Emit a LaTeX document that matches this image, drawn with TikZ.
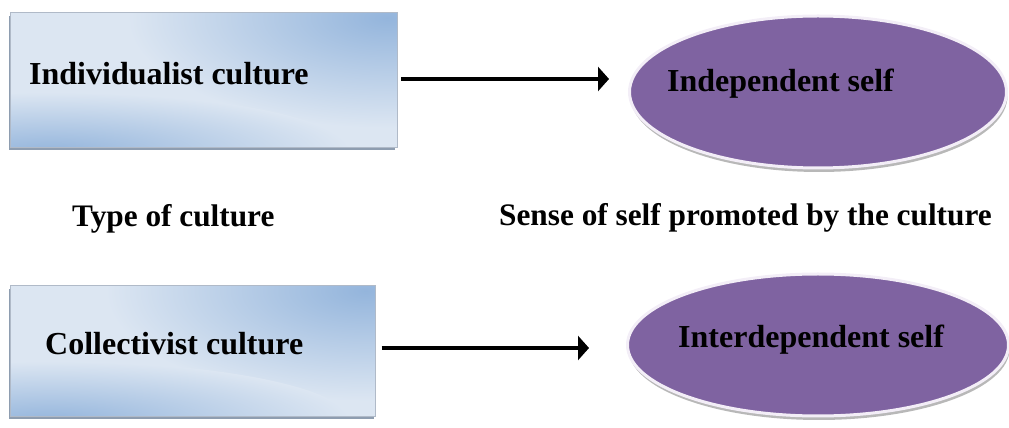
\documentclass[tikz,border=0pt]{standalone}
\usepackage{fontspec}
\setmainfont{Liberation Serif}
\usetikzlibrary{arrows.meta,shapes.geometric,shadows,calc}
\definecolor{boxlight}{HTML}{DCE6F2}
\definecolor{boxblue}{HTML}{94B5DC}
\definecolor{boxedge}{HTML}{8E9DB0}
\definecolor{selfpurple}{HTML}{7F63A1}
\definecolor{selfrim}{HTML}{F3EEF7}
\tikzset{
  culturebox/.style={rectangle, fill=boxlight,
    general shadow={fill=boxedge, shadow xshift=-2pt, shadow yshift=-3pt},
    inner sep=0pt},
  boxrim/.style={draw=boxedge!70, line width=0.8pt},
  blueglow/.style={inner color=boxblue, outer color=boxlight},
  selfellipse/.style={ellipse, fill=selfpurple, draw=selfrim, line width=3pt,
    general shadow={fill=black!28, shadow xshift=1pt, shadow yshift=-4pt},
    inner sep=0pt},
  boxtext/.style={font=\fontsize{32}{38}\selectfont\bfseries, inner sep=0pt, anchor=base west},
  labeltext/.style={font=\fontsize{31.3}{38}\selectfont\bfseries, inner sep=0pt},
  linkarrow/.style={line width=4.5pt, -{Triangle[length=11pt,width=24pt]}},
}
\begin{document}
\begin{tikzpicture}[x=1pt,y=1pt]
\useasboundingbox (0,0) rectangle (1009,428);
% boxes
\node[culturebox, minimum width=386pt, minimum height=134pt] (box1) at (204,348) {};
\node[culturebox, minimum width=365pt, minimum height=130pt] (box2) at (193,77) {};
\foreach \b in {box1,box2}{
  \begin{scope}
    \clip (\b.south west) rectangle (\b.north east);
    \shade[blueglow] ($(\b.north east)+(-10,-5)$) ellipse (260pt and 110pt);
    \shade[blueglow] ($(\b.south west)+(40,-5)$) ellipse (300pt and 60pt);
  \end{scope}
  \draw[boxrim] (\b.south west) rectangle (\b.north east);
}
% ellipses
\node[selfellipse, minimum width=377pt, minimum height=152pt] (ell1) at (818,336) {};
\node[selfellipse, minimum width=381pt, minimum height=142pt] (ell2) at (818,83) {};
% texts
\node[boxtext] (t1) at (29,343) {Individualist culture};
\node[boxtext] (t2) at (45,73) {Collectivist culture};
\node[boxtext] (t3) at (667,336) {Independent self};
\node[boxtext] (t4) at (678,80) {Interdependent self};
\node[labeltext, anchor=base west] (l1) at (72,201) {Type of culture};
\node[labeltext, anchor=base east] (l2) at (992,202) {Sense of self promoted by the culture};
% connectors
\coordinate (a1) at (box1.east |- 0,349);
\coordinate (a2) at (box2.east |- 0,80);
\draw[linkarrow, shorten <=4pt, shorten >=19pt] (a1) -- (a1 -| ell1.west);
\draw[linkarrow, shorten <=6pt, shorten >=37pt] (a2) -- (a2 -| ell2.west);
\end{tikzpicture}
\end{document}
